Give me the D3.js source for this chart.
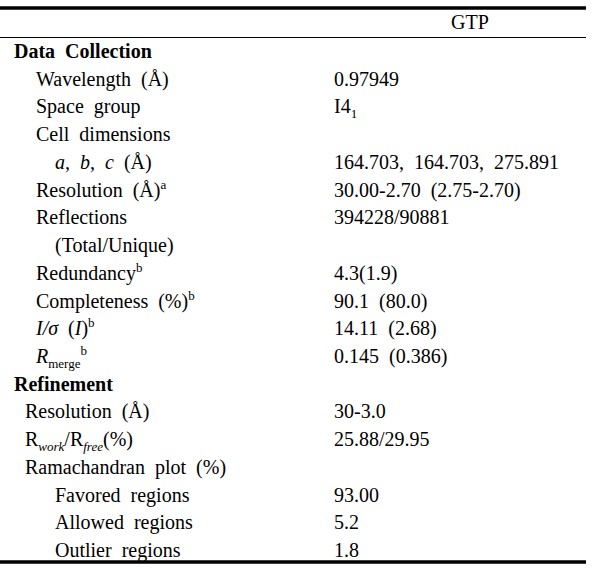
<!DOCTYPE html>
<html>
<head>
<meta charset="utf-8">
<script src="https://cdn.jsdelivr.net/npm/d3@7"></script>
<style>
	body { margin: 0; background: #fff; }
	svg text { font-family: "Liberation Serif", "Times New Roman", serif; fill: #000; }
</style>
</head>
<body>
<div id="table-div"></div>
<script>
// Table content: each label is a list of [text, style] pieces
// style: "" plain, "b" bold, "i" italic, "sub", "sup", "subi" italic subscript
var columnTitles = ["", "GTP"];

var rowLabels = [
	[["Data Collection", "b"]],
	[["Wavelength (Å)", ""]],
	[["Space group", ""]],
	[["Cell dimensions", ""]],
	[["a, b, c", "i"], [" (Å)", ""]],
	[["Resolution (Å)", ""], ["a", "sup"]],
	[["Reflections", ""]],
	[["(Total/Unique)", ""]],
	[["Redundancy", ""], ["b", "sup"]],
	[["Completeness (%)", ""], ["b", "sup"]],
	[["I/σ", "i"], [" (", ""], ["I", "i"], [")", ""], ["b", "sup"]],
	[["R", "i"], ["merge", "sub"], ["b", "sup"]],
	[["Refinement", "b"]],
	[["Resolution (Å)", ""]],
	[["R", ""], ["work", "subi"], ["/R", ""], ["free", "subi"], ["(%)", ""]],
	[["Ramachandran plot (%)", ""]],
	[["Favored regions", ""]],
	[["Allowed regions", ""]],
	[["Outlier regions", ""]]
];

// indent level: 0 section, 1 item (data collection), 2 item (refinement), 3 sub item
var rowLevels = [0, 1, 1, 1, 3, 1, 1, 3, 1, 1, 1, 1, 0, 2, 2, 2, 3, 3, 3];

var gtpValues = [
	[],
	[["0.97949", ""]],
	[["I4", ""], ["1", "sub"]],
	[],
	[["164.703, 164.703, 275.891", ""]],
	[["30.00-2.70 (2.75-2.70)", ""]],
	[["394228/90881", ""]],
	[],
	[["4.3(1.9)", ""]],
	[["90.1 (80.0)", ""]],
	[["14.11 (2.68)", ""]],
	[["0.145 (0.386)", ""]],
	[],
	[["30-3.0", ""]],
	[["25.88/29.95", ""]],
	[],
	[["93.00", ""]],
	[["5.2", ""]],
	[["1.8", ""]]
];

/*
 *  Table drawing
 */
var props = {
	width: 613,
	height: 571,
	left: 0,
	right: 586,
	fontSize: 20,
	smallSize: 13
};

var svg = d3.select("#table-div")
	.append("svg")
	.attr("width", props.width)
	.attr("height", props.height);

// row baselines
var yScale = d3.scalePoint()
	.domain(d3.range(rowLabels.length))
	.range([58, 557]);

var indentX = d3.scaleOrdinal()
	.domain([0, 1, 2, 3])
	.range([14, 36, 25, 55]);

var valueX = 334;
var titleX = 470;

// rules
svg.append("line")
	.attr("x1", props.left).attr("x2", props.right)
	.attr("y1", 8).attr("y2", 8)
	.attr("stroke", "#000").attr("stroke-width", 3.5);

svg.append("line")
	.attr("x1", props.left).attr("x2", props.right)
	.attr("y1", 37.5).attr("y2", 37.5)
	.attr("stroke", "#000").attr("stroke-width", 1.2);

svg.append("line")
	.attr("x1", props.left).attr("x2", props.right)
	.attr("y1", 562).attr("y2", 562)
	.attr("stroke", "#000").attr("stroke-width", 3.5);

// column title
svg.append("text")
	.attr("x", titleX)
	.attr("y", 29)
	.attr("text-anchor", "middle")
	.style("font-size", props.fontSize + "px")
	.text(columnTitles[1]);

function writeRich(textSel, pieces) {
	var shift = 0;
	pieces.forEach(function(p) {
		var style = p[1];
		var want = 0;
		if (style == "sub" || style == "subi") want = 5;
		if (style == "sup") want = -8;
		var ts = textSel.append("tspan")
			.attr("dy", want - shift)
			.text(p[0]);
		shift = want;
		if (style == "b") ts.style("font-weight", "bold");
		if (style == "i" || style == "subi") ts.style("font-style", "italic");
		if (want != 0) ts.style("font-size", props.smallSize + "px").style("word-spacing", "0px");
	});
}

var rows = svg.selectAll("g.row")
	.data(rowLabels)
	.enter()
	.append("g")
	.attr("class", "row");

rows.append("text")
	.attr("x", function(d, i) { return indentX(rowLevels[i]); })
	.attr("y", function(d, i) { return yScale(i); })
	.style("font-size", props.fontSize + "px")
	.style("word-spacing", "5px")
	.each(function(d) { writeRich(d3.select(this), d); });

rows.append("text")
	.attr("x", valueX)
	.attr("y", function(d, i) { return yScale(i); })
	.style("font-size", props.fontSize + "px")
	.style("word-spacing", "5px")
	.each(function(d, i) { writeRich(d3.select(this), gtpValues[i]); });
</script>
</body>
</html>
